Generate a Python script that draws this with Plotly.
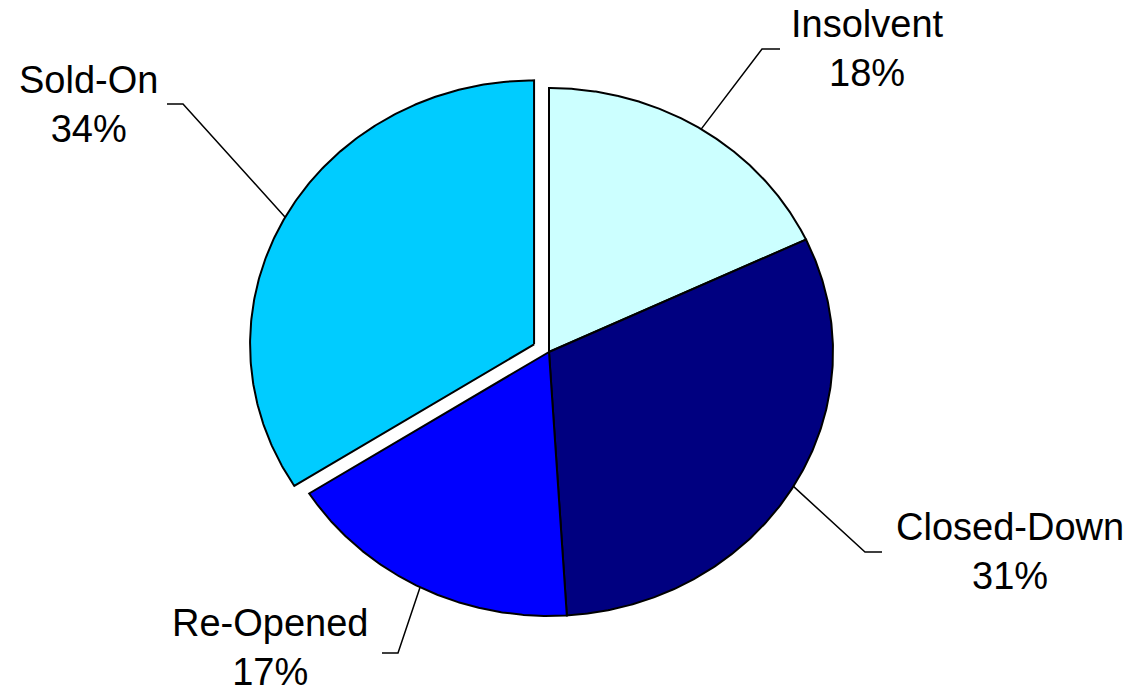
import numpy as np
import plotly.graph_objects as go

# Outcome shares (%)
labels = ["Insolvent", "Closed-Down", "Re-Opened", "Sold-On"]
shares = [18, 31, 17, 34]
colors = ["#CCFFFF", "#000080", "#0000FF", "#00CCFF"]
pulls = [0.0, 0.0, 0.0, 0.06]

# Canvas and pie geometry (pixels)
W, H = 1139, 691
CX, CY = 549, 352
RX, RY = 284, 264

# Label layout in pixels: text centre, leader elbow, leader end
label_pos = {
    "Insolvent": ((867, 48), (762, 49), (780, 49)),
    "Closed-Down": ((1010, 551), (865, 552), (882, 552)),
    "Re-Opened": ((270, 647), (398, 653), (382, 653)),
    "Sold-On": ((88, 104), (183, 104), (167, 104)),
}


def to_data(p):
    """Pixel position -> data units (pie is the unit circle)."""
    return (p[0] - CX) / RX, (CY - p[1]) / RY


fig = go.Figure()

total = float(sum(shares))
start = 0.0
for lab, val, col, pull in zip(labels, shares, colors, pulls):
    t0 = 2 * np.pi * start / total
    t1 = 2 * np.pi * (start + val) / total
    tm = 0.5 * (t0 + t1)
    ox, oy = pull * np.sin(tm), pull * np.cos(tm)
    t = np.linspace(t0, t1, 240)
    xs = np.concatenate([[ox], ox + np.sin(t), [ox]])
    ys = np.concatenate([[oy], oy + np.cos(t), [oy]])
    fig.add_trace(go.Scatter(
        x=xs, y=ys, mode="lines", fill="toself", fillcolor=col,
        line=dict(color="black", width=2), hoverinfo="skip", showlegend=False,
    ))

    # leader line from the slice edge at its mid-angle to the label
    text_c, elbow, end = label_pos[lab]
    ex, ey = to_data(elbow)
    nx, ny = to_data(end)
    fig.add_trace(go.Scatter(
        x=[ox + np.sin(tm), ex, nx], y=[oy + np.cos(tm), ey, ny],
        mode="lines", line=dict(color="black", width=1.5),
        hoverinfo="skip", showlegend=False,
    ))

    tx, ty = to_data(text_c)
    fig.add_annotation(
        x=tx, y=ty, xref="x", yref="y", text=f"{lab}<br>{val}%",
        showarrow=False, xanchor="center", yanchor="middle", align="center",
        font=dict(family="Liberation Sans, Arial, sans-serif", size=38, color="black"),
    )
    start += val

fig.update_xaxes(range=[-CX / RX, (W - CX) / RX], visible=False, fixedrange=True)
fig.update_yaxes(range=[-(H - CY) / RY, CY / RY], visible=False, fixedrange=True)
fig.update_layout(
    width=W, height=H, margin=dict(l=0, r=0, t=0, b=0),
    paper_bgcolor="white", plot_bgcolor="white", showlegend=False,
)

fig.write_html("out.html", config={"displayModeBar": False})
